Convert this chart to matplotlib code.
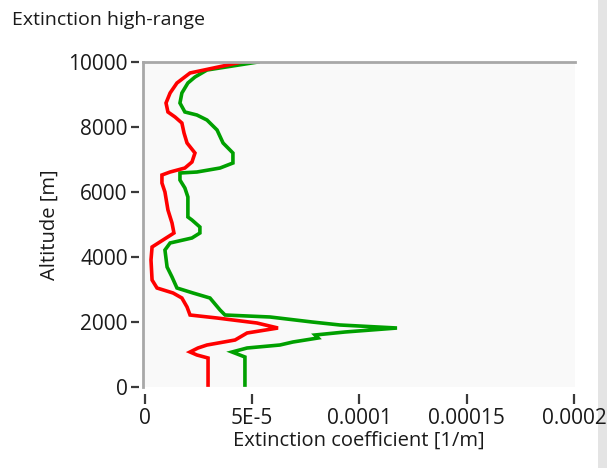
import matplotlib
matplotlib.use('Agg')
import matplotlib.pyplot as plt
from matplotlib.lines import Line2D
from matplotlib.patches import Rectangle

# Profile data: altitude [m] and extinction coefficient [1/m]
altitude_green = [10000, 9754, 9538, 9354, 9046, 8738, 8462, 8369, 8215, 7908,
                  7508, 7200, 6892, 6738, 6615, 6585, 6369, 6123, 5846, 5231,
                  5138, 4923, 4738, 4585, 4431, 4215, 3692, 3385, 3046, 2892,
                  2738, 2369, 2215, 2154, 2000, 1908, 1815, 1692, 1600, 1508,
                  1385, 1292, 1200, 1077, 923, 60]
extinction_green = [5.27e-5, 2.89e-5, 2.33e-5, 2.00e-5, 1.72e-5, 1.63e-5, 1.86e-5, 2.42e-5, 2.89e-5, 3.36e-5,
                    3.64e-5, 4.10e-5, 4.10e-5, 3.50e-5, 2.42e-5, 1.63e-5, 1.63e-5, 1.86e-5, 2.00e-5, 2.00e-5,
                    2.19e-5, 2.56e-5, 2.56e-5, 2.19e-5, 1.17e-5, 0.93e-5, 1.03e-5, 1.26e-5, 1.49e-5, 2.24e-5,
                    3.03e-5, 3.50e-5, 3.73e-5, 5.83e-5, 7.79e-5, 9.09e-5, 11.75e-5, 9.32e-5, 7.93e-5, 8.07e-5,
                    6.90e-5, 6.29e-5, 4.76e-5, 4.06e-5, 4.66e-5, 4.66e-5]

altitude_red = [10000, 9662, 9354, 9046, 8738, 8462, 8308, 8123, 7815, 7508,
                7200, 6923, 6738, 6615, 6523, 6277, 6000, 5446, 5046, 4738,
                4523, 4308, 3908, 3292, 3046, 2892, 2738, 2462, 2215, 2123,
                1969, 1815, 1662, 1446, 1292, 1200, 1077, 985, 892, 60]
extinction_red = [4.52e-5, 2.10e-5, 1.49e-5, 1.17e-5, 0.98e-5, 1.07e-5, 1.40e-5, 1.72e-5, 1.82e-5, 1.96e-5,
                  2.33e-5, 2.19e-5, 1.86e-5, 1.17e-5, 0.79e-5, 0.79e-5, 0.93e-5, 1.07e-5, 1.26e-5, 1.35e-5,
                  0.84e-5, 0.33e-5, 0.28e-5, 0.33e-5, 0.56e-5, 1.31e-5, 1.72e-5, 1.96e-5, 2.10e-5, 3.36e-5,
                  5.22e-5, 6.20e-5, 4.76e-5, 4.20e-5, 2.89e-5, 2.47e-5, 2.10e-5, 2.42e-5, 2.94e-5, 2.94e-5]

x_ticks = [0, 5e-5, 1e-4, 1.5e-4, 2e-4]
x_tick_labels = ['0', '5E-5', '0.0001', '0.00015', '0.0002']
y_ticks = [0, 2000, 4000, 6000, 8000, 10000]
y_tick_labels = ['0', '2000', '4000', '6000', '8000', '10000']

plt.rcParams['font.family'] = ['Open Sans', 'DejaVu Sans']
text_color = '#1a1a1a'
frame_color = '#a8a8a8'

W, H = 607, 468
fig = plt.figure(figsize=(W / 100, H / 100), dpi=100)
fig.patch.set_facecolor('white')

# grey strip on the right edge, kept behind everything else
fig.patches.append(Rectangle((598 / W, 0), 9 / W, 1, transform=fig.transFigure,
                             facecolor='#e4e4e4', edgecolor='none', zorder=-5))

ax = fig.add_axes([143 / W, 1 - 387 / H, (575 - 143) / W, (387 - 62) / H])
ax.set_facecolor('#f9f9f9')

ax.plot(extinction_green, altitude_green, color='#00a000', lw=2.6,
        solid_joinstyle='miter', zorder=3)
ax.plot(extinction_red, altitude_red, color='#ff0000', lw=2.6,
        solid_joinstyle='miter', zorder=4)

ax.set_xlim(-0.93e-6, 2.005e-4)
ax.set_ylim(0, 10000)

# frame: only top and left, drawn as grey lines; ticks sit a bit outside
for side in ['top', 'right', 'bottom', 'left']:
    ax.spines[side].set_visible(False)
ax.spines['left'].set_position(('outward', 3))
ax.spines['bottom'].set_position(('outward', 5))
ax.add_line(Line2D([0, 0], [0, 1], transform=ax.transAxes, color=frame_color,
                   lw=2, clip_on=False, zorder=5))
ax.add_line(Line2D([0, 1], [1, 1], transform=ax.transAxes, color=frame_color,
                   lw=2, clip_on=False, zorder=5))

ax.set_xticks(x_ticks)
ax.set_xticklabels(x_tick_labels)
ax.set_yticks(y_ticks)
ax.set_yticklabels(y_tick_labels)
ax.tick_params(axis='x', length=7, width=1.6, color='#3a3a3a', pad=3,
               labelsize=15, labelcolor=text_color)
ax.tick_params(axis='y', length=6, width=1.6, color='#3a3a3a', pad=2,
               labelsize=15, labelcolor=text_color)

ax.set_xlabel('Extinction coefficient [1/m]', fontsize=14.5, color=text_color, labelpad=1)
ax.set_ylabel('Altitude [m]', fontsize=14.5, color=text_color, labelpad=6)

fig.text(12 / W, 1 - 20 / H, 'Extinction high-range', fontsize=14,
         color=text_color, va='center', ha='left')

fig.savefig('out.png', dpi=100)
